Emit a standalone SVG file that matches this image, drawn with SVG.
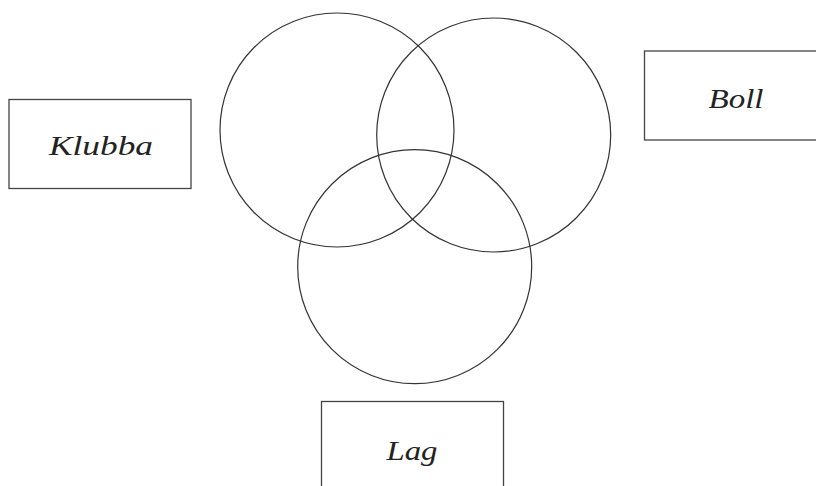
<svg xmlns="http://www.w3.org/2000/svg" width="816" height="486" viewBox="0 0 816 486">
<style>
.c{fill:none;stroke:#333;stroke-width:1.2}
.b{fill:#fff;stroke:#444;stroke-width:1.3}
.t{font-family:"Liberation Serif","DejaVu Serif",serif;font-style:italic;font-size:27px;fill:#222;text-anchor:middle}
</style>
<rect width="816" height="486" fill="#fff"/>
<g id="venn">
<circle id="circle-left" class="c" cx="337" cy="130" r="117"/>
<circle id="circle-right" class="c" cx="493.7" cy="135" r="117"/>
<circle id="circle-bottom" class="c" cx="414.7" cy="266.7" r="117"/>
</g>
<g id="connectors"></g>
<g id="node-klubba">
<rect class="b" x="9" y="99.5" width="182" height="89"/>
<text class="t" x="101" y="155" textLength="104" lengthAdjust="spacingAndGlyphs">Klubba</text>
</g>
<g id="node-boll">
<rect class="b" x="644.5" y="51" width="180" height="89"/>
<text class="t" x="736" y="108" textLength="55" lengthAdjust="spacingAndGlyphs">Boll</text>
</g>
<g id="node-lag">
<rect class="b" x="321.5" y="401.5" width="182" height="100"/>
<text class="t" x="412" y="460" textLength="51" lengthAdjust="spacingAndGlyphs">Lag</text>
</g>
</svg>
